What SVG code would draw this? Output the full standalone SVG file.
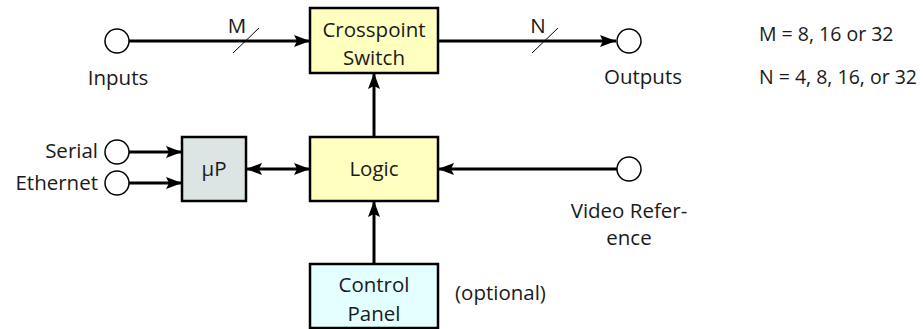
<svg xmlns="http://www.w3.org/2000/svg" width="923" height="329" viewBox="0 0 923 329">
<style>
text{font-family:"Open Sans","Noto Sans",sans-serif;font-size:20.5px;fill:#1a1a1a}
.c{text-anchor:middle}
.e{text-anchor:end}
.lg{font-size:19.5px}
.box{stroke:#000;stroke-width:2.5}
.y{fill:#ffffc0}
.g{fill:#dde4e4}
.b{fill:#e4ffff}
.port{fill:#fff;stroke:#000;stroke-width:1.5}
.ln{stroke:#000;stroke-width:3;fill:none}
.sl{stroke:#000;stroke-width:1}
</style>
<defs>
<marker id="ah" markerUnits="userSpaceOnUse" markerWidth="18" markerHeight="12" refX="16" refY="6" orient="auto-start-reverse">
<path d="M0,0 L16,6 L0,12 L3,6 z" fill="#000"/>
</marker>
</defs>
<g id="connectors">
<line class="ln" x1="129" y1="41" x2="310" y2="41" marker-end="url(#ah)"/>
<line class="sl" x1="233" y1="53" x2="259" y2="28"/>
<line class="ln" x1="438" y1="41" x2="616" y2="41" marker-end="url(#ah)"/>
<line class="sl" x1="532" y1="53" x2="558" y2="28"/>
<line class="ln" x1="374" y1="137" x2="374" y2="73" marker-end="url(#ah)"/>
<line class="ln" x1="129" y1="152" x2="182" y2="152" marker-end="url(#ah)"/>
<line class="ln" x1="129" y1="183" x2="182" y2="183" marker-end="url(#ah)"/>
<line class="ln" x1="246" y1="169" x2="310" y2="169" marker-start="url(#ah)" marker-end="url(#ah)"/>
<line class="ln" x1="617" y1="169" x2="438" y2="169" marker-end="url(#ah)"/>
<line class="ln" x1="374" y1="264" x2="374" y2="201" marker-end="url(#ah)"/>
</g>
<g id="inputs">
<circle class="port" cx="117" cy="41" r="12"/>
<text class="c" x="118" y="85">Inputs</text>
<text class="c" x="237" y="33">M</text>
</g>
<g id="crosspoint">
<rect class="box y" x="310" y="8" width="128" height="65"/>
<text class="c" x="374" y="37">Crosspoint</text>
<text class="c" x="374" y="65">Switch</text>
</g>
<g id="outputs">
<circle class="port" cx="629" cy="41" r="12"/>
<text class="c" x="643" y="84">Outputs</text>
<text class="c" x="538" y="33">N</text>
</g>
<g id="legend">
<text class="lg" x="759" y="41">M = 8, 16 or 32</text>
<text class="lg" x="759" y="84">N = 4, 8, 16, or 32</text>
</g>
<g id="serial">
<circle class="port" cx="117" cy="152" r="12"/>
<text class="e" x="98" y="158">Serial</text>
</g>
<g id="ethernet">
<circle class="port" cx="117" cy="183" r="12"/>
<text class="e" x="98" y="190">Ethernet</text>
</g>
<g id="up">
<rect class="box g" x="182" y="137" width="64" height="64"/>
<text class="c" x="214" y="176">µP</text>
</g>
<g id="logic">
<rect class="box y" x="310" y="137" width="128" height="64"/>
<text class="c" x="374" y="176">Logic</text>
</g>
<g id="videoref">
<circle class="port" cx="629" cy="169" r="12"/>
<text class="c" x="629" y="218">Video Refer-</text>
<text class="c" x="629" y="245">ence</text>
</g>
<g id="control">
<rect class="box b" x="310" y="264" width="128" height="64"/>
<text class="c" x="374" y="292">Control</text>
<text class="c" x="374" y="321">Panel</text>
<text x="455" y="300">(optional)</text>
</g>
</svg>
